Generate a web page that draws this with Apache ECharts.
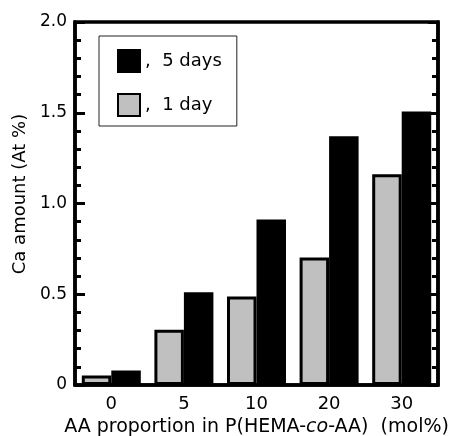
<!DOCTYPE html>
<html>
<head>
<meta charset="utf-8">
<script src="https://cdn.jsdelivr.net/npm/echarts@6/dist/echarts.min.js"></script>
<style>html,body{margin:0;padding:0;background:#fff}#c{width:450px;height:436px}</style>
</head>
<body>
<div id="c"></div>
<script>
const categories = ['0', '5', '10', '20', '30'];
const oneDay = [0.052, 0.304, 0.488, 0.702, 1.161];
const fiveDays = [0.080, 0.511, 0.912, 1.371, 1.507];
const yTicks = [0, 0.5, 1.0, 1.5, 2.0];
const seriesNames = ['1 day', '5 days'];

const FONT = 'DejaVu Sans';
const chart = echarts.init(document.getElementById('c'), null, {renderer: 'canvas'});
const yAxisBase = {
  type: 'value', min: yTicks[0], max: yTicks[yTicks.length - 1], interval: 0.5,
  axisLine: {show: true, onZero: false, lineStyle: {color: '#000', width: 3.5}},
  axisTick: {show: true, inside: true, length: 10, lineStyle: {color: '#000', width: 3}},
  minorTick: {show: true, splitNumber: 5, length: 6, lineStyle: {color: '#000', width: 3}},
  splitLine: {show: false}
};
chart.setOption({
  animation: false,
  grid: {left: 75, right: 12, top: 22, bottom: 51, containLabel: false, outerBoundsMode: 'none',
    show: true, borderColor: '#000', borderWidth: 3.5, backgroundColor: 'transparent'},
  legend: {
    orient: 'vertical', left: 99, top: 36,
    data: [seriesNames[1], seriesNames[0]],
    icon: 'rect',
    itemWidth: 22, itemHeight: 22, itemGap: 20,
    padding: [13, 15, 9, 18],
    borderColor: '#222', borderWidth: 1,
    formatter: n => ',  ' + n,
    textStyle: {fontFamily: FONT, fontSize: 18, color: '#000'}
  },
  xAxis: {
    type: 'category', data: categories,
    axisLine: {lineStyle: {color: '#000', width: 3.5}},
    axisTick: {show: false},
    axisLabel: {fontFamily: FONT, fontSize: 18, color: '#000', margin: 10},
    name: 'AA proportion in P(HEMA-{i|co}-AA)  (mol%)',
    nameLocation: 'middle', nameGap: 29,
    nameTextStyle: {fontFamily: FONT, fontSize: 19, color: '#000',
      rich: {i: {fontFamily: FONT, fontSize: 19, fontStyle: 'italic', color: '#000'}}}
  },
  yAxis: [
    Object.assign({}, yAxisBase, {
      position: 'left',
      axisLabel: {fontFamily: FONT, fontSize: 17, color: '#000', margin: 8,
        formatter: v => v === 0 ? '0' : v.toFixed(1)},
      name: 'Ca amount (At %)', nameLocation: 'middle', nameGap: 42,
      nameTextStyle: {fontFamily: FONT, fontSize: 18, color: '#000', padding: [0, 0, 0, 19]}
    }),
    Object.assign({}, yAxisBase, {position: 'right', axisLabel: {show: false}})
  ],
  series: [
    {name: seriesNames[0], type: 'bar', data: oneDay, barWidth: 29.5, barGap: '0%',
      itemStyle: {color: '#c0c0c0', borderColor: '#000', borderWidth: 3}},
    {name: seriesNames[1], type: 'bar', data: fiveDays, barWidth: 29.5, barGap: '0%',
      itemStyle: {color: '#000', borderColor: '#000', borderWidth: 2}}
  ]
});
</script>
</body>
</html>
